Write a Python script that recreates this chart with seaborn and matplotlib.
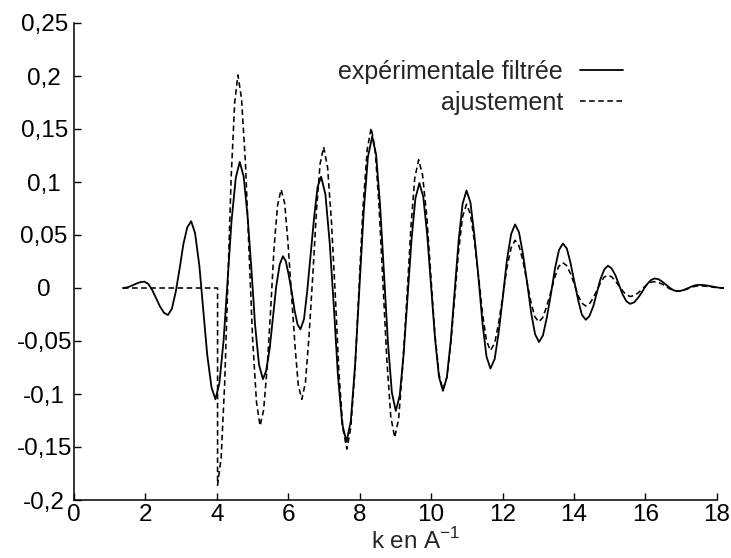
import pandas as pd
import matplotlib
matplotlib.use('Agg')
import matplotlib.pyplot as plt
import seaborn as sns

# k values (A^-1) and chi(k)
k_exp = [1.37, 1.47, 1.57, 1.67, 1.77, 1.87, 1.97,
         2.08, 2.19, 2.30, 2.41, 2.52, 2.63,
         2.74, 2.85, 2.96, 3.06, 3.17, 3.28,
         3.39, 3.51, 3.62, 3.73, 3.85, 3.96,
         4.07, 4.19, 4.30, 4.41, 4.53, 4.64,
         4.75, 4.86, 4.97, 5.07, 5.18, 5.29,
         5.38, 5.48, 5.57, 5.66, 5.76, 5.85,
         5.93, 6.01, 6.10, 6.18, 6.26, 6.34,
         6.44, 6.53, 6.63, 6.73, 6.82, 6.92,
         7.04, 7.16, 7.28, 7.39, 7.51, 7.63,
         7.75, 7.87, 7.99, 8.11, 8.23, 8.35,
         8.46, 8.57, 8.68, 8.79, 8.90, 9.01,
         9.12, 9.23, 9.34, 9.45, 9.56, 9.67,
         9.78, 9.89, 10.00, 10.11, 10.22, 10.33,
         10.44, 10.55, 10.66, 10.77, 10.88, 10.99,
         11.10, 11.21, 11.33, 11.44, 11.55, 11.66,
         11.78, 11.89, 12.01, 12.12, 12.24, 12.35,
         12.46, 12.57, 12.69, 12.80, 12.91, 13.02,
         13.13, 13.24, 13.36, 13.47, 13.58, 13.69,
         13.80, 13.90, 14.01, 14.12, 14.22, 14.33,
         14.43, 14.54, 14.64, 14.74, 14.85, 14.95,
         15.05, 15.16, 15.26, 15.36, 15.47, 15.57,
         15.69, 15.80, 15.92, 16.03, 16.15, 16.26,
         16.37, 16.47, 16.58, 16.69, 16.79, 16.90,
         17.00, 17.10, 17.20, 17.30, 17.40, 17.50,
         17.62, 17.73, 17.85, 17.96, 18.08, 18.20]
chi_exp = [0.0, 0.0004, 0.0015, 0.003, 0.0045, 0.0056, 0.006,
           0.0039, -0.0019, -0.0098, -0.0176, -0.0234, -0.0255,
           -0.0196, -0.0034, 0.0188, 0.0409, 0.0571, 0.063,
           0.0517, 0.021, -0.021, -0.063, -0.0937, -0.105,
           -0.090, -0.049, 0.007, 0.063, 0.104, 0.119,
           0.1053, 0.0677, 0.0165, -0.0348, -0.0723, -0.086,
           -0.0782, -0.057, -0.028, 0.001, 0.0222, 0.030,
           0.0254, 0.0127, -0.0045, -0.0218, -0.0344, -0.039,
           -0.0294, -0.003, 0.033, 0.069, 0.0953, 0.105,
           0.0882, 0.0425, -0.020, -0.0825, -0.1283, -0.145,
           -0.1257, -0.073, -0.001, 0.071, 0.1237, 0.143,
           0.1256, 0.0782, 0.0135, -0.0513, -0.0986, -0.116,
           -0.1016, -0.0622, -0.0085, 0.0453, 0.0846, 0.099,
           0.0859, 0.050, 0.001, -0.048, -0.0839, -0.097,
           -0.0843, -0.0497, -0.0025, 0.0448, 0.0793, 0.092,
           0.0807, 0.050, 0.008, -0.034, -0.0647, -0.076,
           -0.0669, -0.042, -0.008, 0.026, 0.0509, 0.060,
           0.0526, 0.0322, 0.0045, -0.0233, -0.0436, -0.051,
           -0.0448, -0.0277, -0.0045, 0.0188, 0.0358, 0.042,
           0.0372, 0.024, 0.006, -0.012, -0.0252, -0.030,
           -0.0266, -0.0172, -0.0045, 0.0083, 0.0176, 0.021,
           0.0186, 0.012, 0.003, -0.006, -0.0126, -0.015,
           -0.0134, -0.009, -0.003, 0.003, 0.0074, 0.009,
           0.0082, 0.006, 0.003, 0.0, -0.0022, -0.003,
           -0.0026, -0.0015, 0.0, 0.0015, 0.0026, 0.003,
           0.0028, 0.0023, 0.0015, 0.0008, 0.0002, 0.0]

k_fit = [1.37, 4.02, 4.02,
         4.12, 4.22, 4.31, 4.40, 4.50, 4.59,
         4.69, 4.80, 4.90, 5.00, 5.11, 5.21,
         5.31, 5.41, 5.51, 5.60, 5.70, 5.80,
         5.90, 5.99, 6.09, 6.19, 6.28, 6.38,
         6.48, 6.58, 6.69, 6.79, 6.89, 6.99,
         7.10, 7.21, 7.32, 7.42, 7.53, 7.64,
         7.75, 7.87, 7.98, 8.09, 8.21, 8.32,
         8.43, 8.54, 8.65, 8.76, 8.87, 8.98,
         9.09, 9.20, 9.32, 9.43, 9.54, 9.65,
         9.76, 9.88, 9.99, 10.10, 10.22, 10.33,
         10.44, 10.55, 10.66, 10.77, 10.88, 10.99,
         11.10, 11.21, 11.33, 11.44, 11.55, 11.66,
         11.78, 11.89, 12.01, 12.12, 12.24, 12.35,
         12.46, 12.57, 12.68, 12.79, 12.90, 13.01,
         13.12, 13.23, 13.35, 13.46, 13.57, 13.68,
         13.79, 13.90, 14.01, 14.11, 14.22, 14.33,
         14.43, 14.53, 14.64, 14.74, 14.84, 14.94,
         15.05, 15.15, 15.26, 15.37, 15.47, 15.58,
         15.69, 15.80, 15.91, 16.02, 16.13, 16.24,
         16.35, 16.46, 16.57, 16.68, 16.79, 16.90,
         17.00, 17.10, 17.20, 17.30, 17.40, 17.50,
         17.62, 17.73, 17.85, 17.96, 18.08, 18.20]
chi_fit = [0.0, 0.0, -0.186,
           -0.1601, -0.0892, 0.0075, 0.1043, 0.1751, 0.201,
           0.1788, 0.1182, 0.0355, -0.0473, -0.1078, -0.130,
           -0.1151, -0.0742, -0.0185, 0.0373, 0.0781, 0.093,
           0.0797, 0.0435, -0.006, -0.0555, -0.0917, -0.105,
           -0.0891, -0.0455, 0.014, 0.0735, 0.1171, 0.133,
           0.1139, 0.0617, -0.0095, -0.0808, -0.1329, -0.152,
           -0.1317, -0.0762, -0.0005, 0.0753, 0.1307, 0.151,
           0.1314, 0.078, 0.005, -0.068, -0.1214, -0.141,
           -0.1234, -0.0755, -0.010, 0.0555, 0.1034, 0.121,
           0.1065, 0.0667, 0.0125, -0.0418, -0.0815, -0.096,
           -0.0843, -0.0522, -0.0085, 0.0353, 0.0673, 0.079,
           0.0698, 0.0445, 0.010, -0.0245, -0.0498, -0.059,
           -0.052, -0.033, -0.007, 0.019, 0.038, 0.045,
           0.0398, 0.0257, 0.0065, -0.0128, -0.0269, -0.032,
           -0.0282, -0.018, -0.004, 0.010, 0.0202, 0.024,
           0.0213, 0.0138, 0.0035, -0.0068, -0.0143, -0.017,
           -0.0151, -0.0098, -0.0025, 0.0048, 0.0101, 0.012,
           0.0107, 0.007, 0.002, -0.003, -0.0067, -0.008,
           -0.0071, -0.0045, -0.001, 0.0025, 0.0051, 0.006,
           0.0054, 0.0038, 0.0015, -0.0008, -0.0024, -0.003,
           -0.0027, -0.0018, -0.0005, 0.0008, 0.0017, 0.002,
           0.0019, 0.0015, 0.001, 0.0005, 0.0001, 0.0]

x_ticks = [0, 2, 4, 6, 8, 10, 12, 14, 16, 18]
y_ticks = [-0.2, -0.15, -0.1, -0.05, 0, 0.05, 0.1, 0.15, 0.2, 0.25]
y_tick_labels = ['-0,2', '-0,15', '-0,1', '-0,05', '0', '0,05', '0,1', '0,15', '0,2', '0,25']

sns.set_style('ticks')
plt.rcParams['font.family'] = ['Liberation Sans', 'DejaVu Sans']
plt.rcParams['mathtext.fontset'] = 'custom'
plt.rcParams['mathtext.rm'] = 'Liberation Sans'

df_exp = pd.DataFrame({'k': k_exp, 'chi': chi_exp})
df_fit = pd.DataFrame({'k': k_fit, 'chi': chi_fit})

fig = plt.figure(figsize=(7.31, 5.58), dpi=100)
ax = fig.add_axes([74 / 731, 1 - 500 / 558, 650 / 731, 477 / 558])

sns.lineplot(data=df_exp, x='k', y='chi', ax=ax, sort=False, estimator=None,
             color='black', linewidth=1.3, label='expérimentale filtrée')
sns.lineplot(data=df_fit, x='k', y='chi', ax=ax, sort=False, estimator=None,
             color='black', linewidth=1.15, linestyle=(0, (3.5, 2.2)), label='ajustement')

ax.set_xlim(0, 18.2)
ax.set_ylim(-0.2, 0.25)
ax.set_xticks(x_ticks)
ax.set_xticklabels([str(t) for t in x_ticks])
ax.set_yticks(y_ticks)
ax.set_yticklabels(y_tick_labels)
ax.tick_params(direction='in', length=5, width=1, labelsize=17.5, colors='black')
ax.tick_params(axis='y', pad=21.5)
ax.tick_params(axis='x', pad=3)
for lab in ax.get_yticklabels():
    lab.set_horizontalalignment('center')
ax.spines['top'].set_visible(False)
ax.spines['right'].set_visible(False)
ax.spines['bottom'].set_bounds(0, 18)
for s in ['left', 'bottom']:
    ax.spines[s].set_linewidth(1.1)
    ax.spines[s].set_color('black')

ax.set_xlabel(r'k en A$^{\mathregular{-1}}$', fontsize=17.5)
ax.xaxis.set_label_coords(0.526, -0.058)
ax.set_ylabel('')

ax.legend(loc='upper right', bbox_to_anchor=(0.879, 0.97), frameon=False,
          markerfirst=False, fontsize=18, handlelength=1.7, handletextpad=0.7,
          labelspacing=0.28)

fig.savefig('out.png', dpi=100)
